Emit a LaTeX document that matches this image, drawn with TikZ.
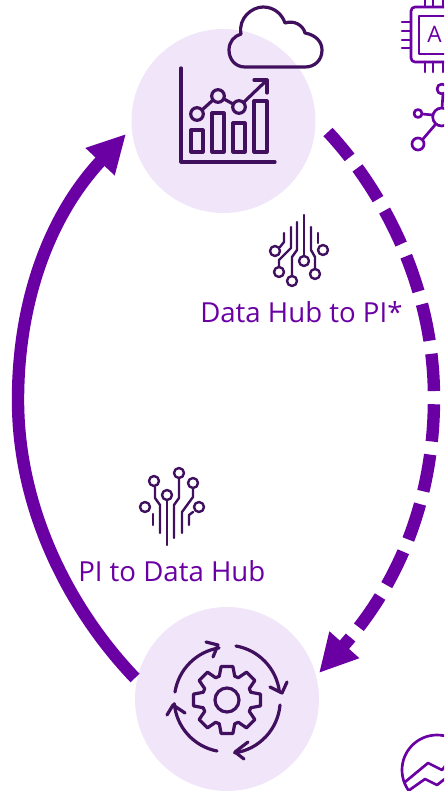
\documentclass[tikz,border=0pt]{standalone}
\usepackage{fontspec}
\setmainfont{Open Sans}
\usetikzlibrary{arrows.meta}
\definecolor{mainp}{HTML}{6A00A4}
\definecolor{darkp}{HTML}{40105F}
\definecolor{palep}{HTML}{F1E6F9}
\tikzset{
  disc/.style={circle,fill=palep,draw=none,minimum size=138pt,inner sep=0pt},
  icon/.style={draw=darkp,line width=2.4pt,line cap=round,line join=round},
  iconthin/.style={draw=darkp,line width=1.8pt,line cap=round,line join=round},
  sideicon/.style={draw=mainp,line width=2pt,line cap=round,line join=round},
  flow/.style={draw=mainp,line width=9.3pt,-{Triangle[length=28.5pt,width=28pt]}},
  caption/.style={text=mainp,font=\fontsize{20.7}{24}\selectfont,inner sep=0pt,anchor=base west},
  chipletter/.style={text=mainp,font=\fontsize{17}{18}\selectfont,inner sep=0pt,anchor=base west}
}
\begin{document}
\begin{tikzpicture}[x=0.75pt,y=-0.75pt]
\useasboundingbox (0,0) rectangle (444,791);
\clip (0,0) rectangle (444,791);
\node[disc] (top) at (223.5,121) {};
\node[disc] (bottom) at (227,699) {};
% connectors
\coordinate (solidstart) at (135,678);
\coordinate (solidmid) at (18,400);
\coordinate (solidend) at (126,134);
\coordinate (dashstart) at (328,132);
\coordinate (dashmid) at (434,398);
\coordinate (dashend) at (319,673);
\draw[flow] (solidstart) .. controls (70,610) and (18,510) .. (solidmid) .. controls (18,300) and (50,215) .. (solidend);
\draw[flow,dash pattern=on 28pt off 9.9pt,dash phase=3pt] (dashstart) .. controls (382,190) and (434,285) .. (dashmid) .. controls (434,500) and (398,585) .. (dashend);
% chart icon
\draw[icon] (181,68) -- (181,162) -- (275,162);
\draw[icon] (191,130) rectangle (203,152);
\draw[icon] (212,113) rectangle (224,152);
\draw[icon] (233,123) rectangle (245,152);
\draw[icon] (254,101) rectangle (267,152);
\draw[icon] (197,114) circle (6.3);
\draw[icon] (218,96) circle (6.3);
\draw[icon] (239,107) circle (6.3);
\draw[icon] (202,110) -- (213,100);
\draw[icon] (224,99) -- (233,104);
\draw[icon] (244,102) -- (267,80);
\draw[icon] (254,80) -- (267,80) -- (267,93);
% cloud
\draw[icon] (245,67) .. controls (235,67) and (229,59) .. (229,50)
  .. controls (229,42) and (234,36) .. (241,34)
  .. controls (238,18) and (252,7) .. (263,7)
  .. controls (274,7) and (282,14) .. (285,23)
  .. controls (294,20) and (303,25) .. (305,33)
  .. controls (316,35) and (322,42) .. (322,50)
  .. controls (322,60) and (315,67) .. (305,67) -- cycle;
% gear
\draw[icon] (227,700) circle (12);
\draw[icon] ([shift={(227,700)}]-18:25)
  \foreach \a in {0,45,...,315} {
    -- ([shift={(227,700)}]\a-18:25)
    -- ([shift={(227,700)}]\a-10:34)
    -- ([shift={(227,700)}]\a+10:34)
    -- ([shift={(227,700)}]\a+18:25)
  } -- cycle;
% rotating arrows
\draw[icon] (175,692) arc[start angle=189,end angle=261,radius=53];
\draw[icon] (206,642) -- (218,645) -- (213,657);
\draw[icon] (236,646) arc[start angle=-80,end angle=-7,radius=53];
\draw[icon] (270,687) -- (282,693) -- (287,682);
\draw[icon] (280,705) arc[start angle=5,end angle=82,radius=53];
\draw[icon] (248,742) -- (235,752) -- (244,759);
\draw[icon] (217,751) arc[start angle=101,end angle=175,radius=53];
\draw[icon] (167,715) -- (173,705) -- (185,713);
% circuit icon upper
\draw[iconthin] (304,215) -- (304,255);
\draw[iconthin] (304,261) circle (5);
\draw[iconthin] (297,222) -- (297,250) -- (292,257) -- (292,275);
\draw[iconthin] (292,281) circle (5);
\draw[iconthin] (291,227) -- (291,248) -- (279,260) -- (279,267);
\draw[iconthin] (279,272) circle (5);
\draw[iconthin] (284,233) -- (284,242) -- (280,247);
\draw[iconthin] (275,251) circle (5);
\draw[iconthin] (311,227) -- (311,250) -- (315,257) -- (315,268);
\draw[iconthin] (315,274) circle (5);
\draw[iconthin] (318,233) -- (318,243);
\draw[iconthin] (323,250) circle (5);
% circuit icon lower
\draw[iconthin] (167,545) -- (167,501);
\draw[iconthin] (167,495) circle (5);
\draw[iconthin] (160,533) -- (160,505) -- (155,498) -- (155,487);
\draw[iconthin] (154,481) circle (5);
\draw[iconthin] (174,538) -- (174,505) -- (179,498) -- (179,479);
\draw[iconthin] (179,473) circle (5);
\draw[iconthin] (182,533) -- (182,512) -- (193,497) -- (193,489);
\draw[iconthin] (193,483) circle (5);
\draw[iconthin] (153,525) -- (153,514);
\draw[iconthin] (145,507) circle (5);
\draw[iconthin] (189,525) -- (189,515) -- (193,512);
\draw[iconthin] (199,507) circle (5);
% captions
\node[caption] (hubtopi) at (200,322) {Data Hub to PI*};
\node[caption] (pitohub) at (78,581) {PI to Data Hub};
% chip
\draw[sideicon,rounded corners=3pt] (411,7) rectangle (480,62);
\draw[sideicon] (419,16) rectangle (470,54);
\node[chipletter] (chipa) at (427,43) {A};
\foreach \y in {22,31,40,48} \draw[sideicon] (402,\y) -- (411,\y);
\foreach \x in {425,433,443} {
  \draw[sideicon] (\x,0) -- (\x,7);
  \draw[sideicon] (\x,62) -- (\x,72);
}
% network
\draw[sideicon] (441.7,117) circle (9);
\draw[sideicon] (442,89) circle (5);
\draw[sideicon] (443,94) -- (442,108);
\draw[sideicon] (418,113.5) circle (4);
\draw[sideicon] (422,114) -- (433,115);
\draw[sideicon] (418,144) circle (6);
\draw[sideicon] (423,139) -- (435,125);
% mountain badge
\draw[sideicon] (437,770) circle (35);
\draw[sideicon] (405,782) -- (428,763) -- (442,770) -- (450,760);
\draw[sideicon] (408,791) -- (425,779) -- (437,785) -- (446,778);
\end{tikzpicture}
\end{document}
